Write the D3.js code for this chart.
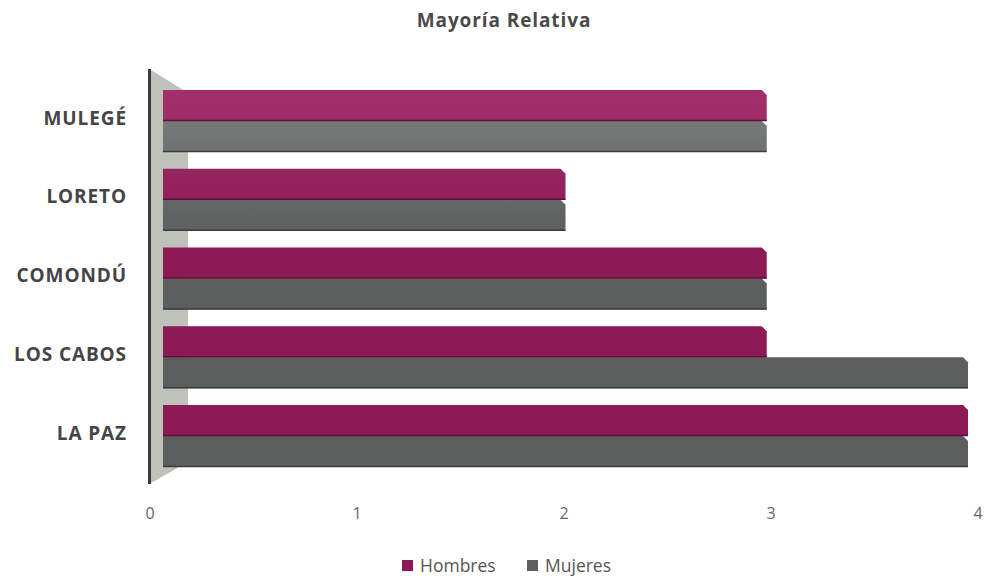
<!DOCTYPE html>
<html>
<head>
<meta charset="utf-8">
<script src="https://cdn.jsdelivr.net/npm/d3@7"></script>
<style>
  html, body { margin: 0; padding: 0; background: #ffffff; }
  svg { display: block; }
  text { font-family: "Open Sans", Lato, "DejaVu Sans", sans-serif; }
</style>
</head>
<body>
<svg id="chart" width="986" height="578"></svg>
<script>
// Municipios (top to bottom) and seats by gender
const categories = ["MULEGÉ", "LORETO", "COMONDÚ", "LOS CABOS", "LA PAZ"];
const hombres = [3, 2, 3, 3, 4];
const mujeres = [3, 2, 3, 4, 4];
const seriesNames = ["Hombres", "Mujeres"];
const seriesColors = ["#8b1a55", "#5a5e5c"];
const seriesLight = ["#a3306c", "#7e817e"];
const tickValues = [0, 1, 2, 3, 4];

const svg = d3.select("#chart");
const defs = svg.append("defs");

// back plane scale (tick labels) and front scale (bar faces)
const xBack = d3.scaleLinear().domain([0, 4]).range([150, 978]);
const xFront = d3.scaleLinear().domain([0, 4]).range([163, 968]);

const y = d3.scaleBand().domain(categories).range([90, 467]).paddingInner(0.2127).paddingOuter(0);
const ySub = d3.scaleBand().domain(seriesNames).range([0, y.bandwidth()]);

// Title
svg.append("text")
  .attr("x", 504).attr("y", 27)
  .attr("text-anchor", "middle")
  .attr("font-size", 19).attr("font-weight", "bold")
  .attr("letter-spacing", 0.9)
  .attr("fill", "#4a4a4a")
  .text("Mayoría Relativa");

// Side wall in perspective
svg.append("path")
  .attr("d", "M151,70 L188,93 L188,462 L151,483 Z")
  .attr("fill", "#bec2bb");
svg.append("line")
  .attr("x1", 149.5).attr("x2", 149.5).attr("y1", 69).attr("y2", 484)
  .attr("stroke", "#3a3a3a").attr("stroke-width", 3);

// Bars with a chamfered top-right corner for depth
const rows = categories.map((c, i) => ({ cat: c, idx: i, vals: [hombres[i], mujeres[i]] }));
const bevel = 5;
function barPath(x0, x1, y0, h) {
  return `M${x0},${y0} L${x1 - bevel},${y0} L${x1},${y0 + bevel} L${x1},${y0 + h} L${x0},${y0 + h} Z`;
}

// light falls from the top of the plot: one gradient per group, in page space
rows.forEach(r => {
  const off = y(r.cat);
  seriesNames.forEach((s, j) => {
    const g = defs.append("linearGradient")
      .attr("id", `grad${j}_${r.idx}`)
      .attr("gradientUnits", "userSpaceOnUse")
      .attr("x1", 0).attr("x2", 0).attr("y1", 90 - off).attr("y2", 240 - off);
    g.append("stop").attr("offset", 0).attr("stop-color", seriesLight[j]);
    g.append("stop").attr("offset", 1).attr("stop-color", seriesColors[j]);
  });
});

const groups = svg.append("g").selectAll("g")
  .data(rows).join("g")
  .attr("transform", d => `translate(0,${y(d.cat)})`);

groups.selectAll("path")
  .data(d => d.vals.map((v, j) => ({ v, s: seriesNames[j], j, idx: d.idx })))
  .join("path")
  .attr("d", d => barPath(xFront(0), xFront(d.v), ySub(d.s), ySub.bandwidth()))
  .attr("fill", d => `url(#grad${d.j}_${d.idx})`);

// thin dark edges under each bar
groups.selectAll("line.edge")
  .data(d => d.vals.map((v, j) => ({ v, s: seriesNames[j], j })))
  .join("line")
  .attr("class", "edge")
  .attr("x1", xFront(0)).attr("x2", d => xFront(d.v))
  .attr("y1", d => ySub(d.s) + ySub.bandwidth() - 0.5)
  .attr("y2", d => ySub(d.s) + ySub.bandwidth() - 0.5)
  .attr("stroke", d => d.j === 0 ? "#5e0f38" : "#3a3d3c").attr("stroke-width", 1.4);

// Category labels
svg.append("g").selectAll("text")
  .data(categories).join("text")
  .attr("x", 127)
  .attr("y", d => y(d) + y.bandwidth() / 2 - 3)
  .attr("dy", "0.35em")
  .attr("text-anchor", "end")
  .attr("font-size", 19).attr("font-weight", "bold")
  .attr("letter-spacing", 0.9)
  .attr("fill", "#454545")
  .text(d => d);

// Value axis labels
svg.append("g").selectAll("text")
  .data(tickValues).join("text")
  .attr("x", d => xBack(d))
  .attr("y", 519)
  .attr("text-anchor", "middle")
  .attr("font-size", 16)
  .attr("fill", "#666")
  .text(d => d);

// Legend
const legend = svg.append("g");
const legendItems = [{ name: "Hombres", x: 402 }, { name: "Mujeres", x: 527 }];
legendItems.forEach((it, i) => {
  legend.append("rect")
    .attr("x", it.x).attr("y", 560).attr("width", 11).attr("height", 11)
    .attr("fill", seriesColors[i]);
  legend.append("text")
    .attr("x", it.x + 18).attr("y", 572)
    .attr("font-size", 17.5).attr("fill", "#555")
    .text(it.name);
});
</script>
</body>
</html>
